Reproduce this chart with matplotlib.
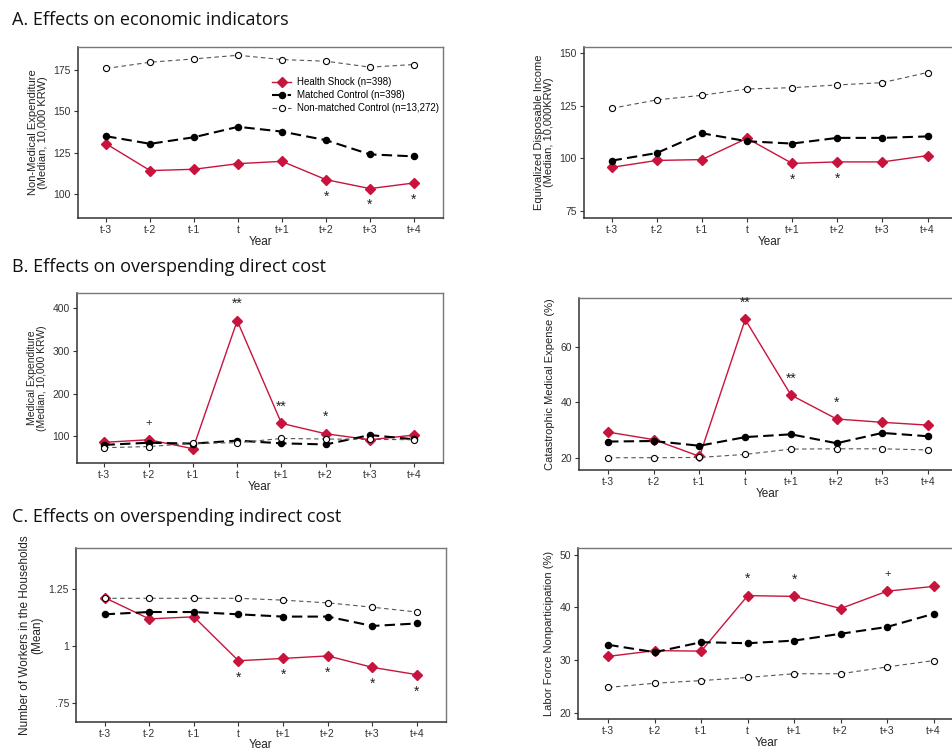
import matplotlib
matplotlib.use("Agg")
import matplotlib.pyplot as plt

plt.rcParams['font.family'] = ['Liberation Sans', 'DejaVu Sans']

years = ["t-3", "t-2", "t-1", "t", "t+1", "t+2", "t+3", "t+4"]

# A. economic indicators
nonmed_hs = [130.4, 114.2, 115.0, 118.4, 119.8, 108.7, 103.3, 106.7]
nonmed_mc = [135.0, 130.4, 134.4, 140.7, 137.8, 132.6, 124.0, 122.8]
nonmed_nc = [176.0, 179.8, 181.8, 184.0, 181.4, 180.4, 176.8, 178.4]
nonmed_sig = ["", "", "", "", "", "*", "*", "*"]

income_hs = [95.7, 99.0, 99.4, 109.5, 97.6, 98.3, 98.3, 101.3]
income_mc = [98.9, 102.5, 111.9, 108.1, 107.0, 109.7, 109.7, 110.4]
income_nc = [123.7, 127.7, 129.9, 132.9, 133.5, 134.8, 135.9, 140.7]
income_sig = ["", "", "", "", "*", "*", "", ""]

# B. direct cost
med_hs = [86, 92, 71, 371, 130.5, 106, 92, 103]
med_mc = [80, 85, 83, 90, 83.6, 81, 103, 93]
med_nc = [73.4, 76, 83.6, 85, 95, 93.7, 93, 92]
med_sig = ["", "+", "", "**", "**", "*", "", ""]

cat_hs = [29.3, 26.6, 20.6, 69.7, 42.6, 34.0, 32.8, 31.8]
cat_mc = [25.9, 26.1, 24.4, 27.5, 28.5, 25.3, 29.0, 27.8]
cat_nc = [20.1, 20.1, 20.2, 21.3, 23.2, 23.3, 23.3, 22.9]
cat_sig = ["", "", "", "**", "**", "*", "", ""]

# C. indirect cost
work_hs = [1.213, 1.12, 1.129, 0.937, 0.947, 0.958, 0.908, 0.876]
work_mc = [1.14, 1.15, 1.15, 1.14, 1.13, 1.13, 1.089, 1.10]
work_nc = [1.21, 1.21, 1.21, 1.21, 1.202, 1.19, 1.171, 1.15]
work_sig = ["", "", "", "*", "*", "*", "*", "*"]

labor_hs = [30.7, 31.8, 31.7, 42.25, 42.1, 39.8, 43.1, 44.0]
labor_mc = [32.9, 31.5, 33.4, 33.2, 33.7, 35.0, 36.3, 38.8]
labor_nc = [24.8, 25.6, 26.1, 26.7, 27.4, 27.4, 28.7, 29.9]
labor_sig = ["", "", "", "*", "*", "", "+", ""]

RED = "#C8143C"


def panel(rect, hs, mc, nc, sig, ylabel, ylim, xlim, yticks, ytlabels=None,
          sig_below=True, legend=False, label_size=8, xpad=1):
    ax = fig.add_axes(rect)
    x = list(range(len(years)))
    ax.plot(x, hs, color=RED, lw=1.0, marker="D", ms=4.8, mfc=RED, mec=RED,
            label="Health Shock (n=398)")
    ax.plot(x, mc, color="black", lw=1.5, ls=(0, (5, 2.5)), marker="o", ms=4.4,
            mfc="black", mec="black", label="Matched Control (n=398)")
    ax.plot(x, nc, color="#555555", lw=0.8, ls=(0, (4, 3)), marker="o", ms=4.4,
            mfc="white", mec="black", mew=0.8, label="Non-matched Control (n=13,272)")
    for xi, yi, s in zip(x, hs, sig):
        if not s:
            continue
        off = -12 if sig_below else 12
        size = 8 if s == "+" else 10
        ax.annotate(s, (xi, yi), xytext=(0, off), textcoords="offset points",
                    ha="center", va="center", fontsize=size, color="#222222")
    ax.set_xlim(*xlim)
    ax.set_ylim(*ylim)
    ax.set_xticks(x)
    ax.set_xticklabels(years)
    ax.set_yticks(yticks)
    if ytlabels is not None:
        ax.set_yticklabels(ytlabels)
    ax.tick_params(direction="out", length=3, width=0.8, colors="#333333",
                   labelsize=7.5, pad=2)
    ax.set_xlabel("Year", fontsize=8.5, labelpad=xpad, color="#222222")
    ax.set_ylabel(ylabel, fontsize=label_size, labelpad=4, color="#222222",
                  linespacing=1.0)
    for side in ("left", "bottom"):
        ax.spines[side].set_color("#333333")
        ax.spines[side].set_linewidth(1.1)
    for side in ("top", "right"):
        ax.spines[side].set_color("#777777")
        ax.spines[side].set_linewidth(1.0)
    if legend:
        ax.legend(loc="upper left", bbox_to_anchor=(0.522, 0.845), frameon=False,
                  fontsize=7, handlelength=1.9, handletextpad=0.6,
                  labelspacing=0.3, borderaxespad=0)
    return ax


fig = plt.figure(figsize=(9.52, 7.49), dpi=100)

W, H = 952.0, 749.0


def r(x0, y0, x1, y1):
    return [x0 / W, 1 - y1 / H, (x1 - x0) / W, (y1 - y0) / H]


title_kw = dict(fontsize=13, family=["Open Sans", "DejaVu Sans"], va="center",
                color="#111111")
fig.text(12 / W, 1 - 20 / H, "A. Effects on economic indicators", **title_kw)
fig.text(12 / W, 1 - 267 / H, "B. Effects on overspending direct cost", **title_kw)
fig.text(12 / W, 1 - 517 / H, "C. Effects on overspending indirect cost", **title_kw)

panel(r(78, 47, 443, 218), nonmed_hs, nonmed_mc, nonmed_nc, nonmed_sig,
      "Non-Medical Expenditure\n(Median, 10,000 KRW)", (85.5, 189), (-0.64, 7.66),
      [100, 125, 150, 175], legend=True)
panel(r(584, 47, 956, 218), income_hs, income_mc, income_nc, income_sig,
      "Equivalized Disposable Income\n(Median, 10,000KRW)", (71.7, 152.8), (-0.61, 7.63),
      [75, 100, 125, 150])
panel(r(77, 293, 443, 463), med_hs, med_mc, med_nc, med_sig,
      "Medical Expenditure\n(Median, 10,000 KRW)", (37.5, 436), (-0.62, 7.65),
      [100, 200, 300, 400], sig_below=False, label_size=7.5)
panel(r(579, 298, 956, 470), cat_hs, cat_mc, cat_nc, cat_sig,
      "Catastrophic Medical Expense (%)", (15.7, 77.4), (-0.635, 7.61),
      [20, 40, 60], sig_below=False)
panel(r(76, 548, 446, 722), work_hs, work_mc, work_nc, work_sig,
      "Number of Workers in the Households\n(Mean)", (0.669, 1.43), (-0.64, 7.65),
      [0.75, 1.0, 1.25], ytlabels=[".75", "1", "1.25"], label_size=8.5, xpad=0)
panel(r(578, 548, 956, 719), labor_hs, labor_mc, labor_nc, labor_sig,
      "Labor Force Nonparticipation (%)", (18.8, 51.3), (-0.65, 7.48),
      [20, 30, 40, 50], sig_below=False, xpad=0.5)

fig.savefig("out.png", dpi=100)
